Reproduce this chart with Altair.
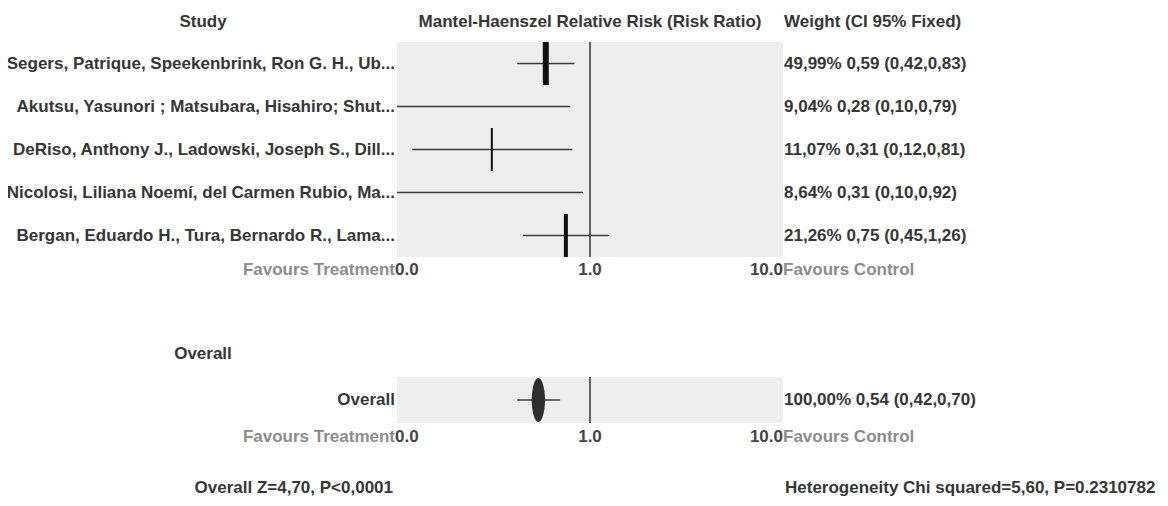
import altair as alt
import pandas as pd

# ---------------- data ----------------
studies = [
    "Segers, Patrique, Speekenbrink, Ron G. H., Ub...",
    "Akutsu, Yasunori ; Matsubara, Hisahiro; Shut...",
    "DeRiso, Anthony J., Ladowski, Joseph S., Dill...",
    "Nicolosi, Liliana Noemí, del Carmen Rubio, Ma...",
    "Bergan, Eduardo H., Tura, Bernardo R., Lama...",
]
weights = [49.99, 9.04, 11.07, 8.64, 21.26]
rr = [0.59, 0.28, 0.31, 0.31, 0.75]
ci_low = [0.42, 0.10, 0.12, 0.10, 0.45]
ci_high = [0.83, 0.79, 0.81, 0.92, 1.26]

overall_name = ["Overall"]
overall_weight = [100.00]
overall_rr = [0.54]
overall_low = [0.42]
overall_high = [0.70]

tick_values = [0.1, 1.0, 10.0]
tick_labels = ["0.0", "1.0", "10.0"]

header_study = "Study"
header_effect = "Mantel-Haenszel Relative Risk (Risk Ratio)"
header_weight = "Weight (CI 95% Fixed)"
header_overall = "Overall"
favours_left = "Favours Treatment"
favours_right = "Favours Control"
footer_left = "Overall Z=4,70, P<0,0001"
footer_right = "Heterogeneity Chi squared=5,60, P=0.2310782"


def fmt(v):
    return f"{v:.2f}".replace(".", ",")


def wlabel(w, r, lo, hi):
    return f"{fmt(w)}% {fmt(r)} ({fmt(lo)},{fmt(hi)})"


df = pd.DataFrame({
    "study": studies, "weight": weights, "rr": rr, "lo": ci_low, "hi": ci_high,
})
df["label"] = [wlabel(*t) for t in zip(weights, rr, ci_low, ci_high)]

dfo = pd.DataFrame({
    "study": overall_name, "weight": overall_weight, "rr": overall_rr,
    "lo": overall_low, "hi": overall_high,
})
dfo["label"] = [wlabel(*t) for t in zip(overall_weight, overall_rr, overall_low, overall_high)]

ticks = pd.DataFrame({"v": tick_values, "t": tick_labels})

# ---------------- styles ----------------
FONT = "Liberation Sans"
FS = 17
TXT = "#363636"
GREY = "#8c8c8c"
PANEL = "#eeeeee"

XS = alt.Scale(type="log", domain=[0.1, 10], range=[389, 775])


def xd(v):
    return alt.X(datum=v, scale=XS, axis=None)


def txt(**kw):
    base = dict(font=FONT, fontSize=FS, fontWeight="bold", color=TXT, baseline="middle")
    base.update(kw)
    return base


def section(data, yscale):
    ch = alt.Chart(data)
    Y = lambda **k: alt.Y("study:N", scale=yscale, axis=None, **k)
    bg = ch.mark_rect(color=PANEL).encode(x=xd(0.1), x2=alt.X2(datum=10), y=Y())
    ref = ch.mark_rule(color="#333333", strokeWidth=1.5).encode(
        x=xd(1.0), y=Y(bandPosition=0), y2=alt.Y2("study:N", bandPosition=1))
    ci = ch.mark_rule(color="#3c3c3c", strokeWidth=1.6).encode(
        x=alt.X("lo:Q", scale=XS, axis=None), x2="hi:Q", y=Y())
    names = ch.mark_text(**txt(align="right", dx=-2)).encode(x=xd(0.1), y=Y(), text="study:N")
    wts = ch.mark_text(**txt(align="left", dx=1)).encode(x=xd(10), y=Y(), text="label:N")
    return ch, Y, [bg, ref, ci, names, wts]


# studies section
chA, YA, layersA = section(df, alt.Scale(type="band", domain=studies, range=[34, 249],
                                        paddingInner=0, paddingOuter=0))
est = chA.mark_rule(color="#111111").encode(
    x=alt.X("rr:Q", scale=XS, axis=None),
    y=YA(bandPosition=0), y2=alt.Y2("study:N", bandPosition=1),
    strokeWidth=alt.StrokeWidth("weight:Q", legend=None,
                                scale=alt.Scale(type="threshold", domain=[10, 15, 30],
                                                range=[0, 2, 4, 6])),
)
secA = alt.layer(*layersA[:3], est, *layersA[3:])

# overall section
chB, YB, layersB = section(dfo, alt.Scale(type="band", domain=overall_name, range=[369, 415],
                                          paddingInner=0, paddingOuter=0))
ellipse = chB.mark_point(
    shape="M0,-1A0.3,1,0,1,1,0,1A0.3,1,0,1,1,0,-1Z",
    filled=True, color="#2e2e2e", opacity=1, size=1936, strokeWidth=0,
).encode(x=alt.X("rr:Q", scale=XS, axis=None), y=YB())
secB = alt.layer(*layersB[:3], ellipse, *layersB[3:])


# axis-label rows
def axis_row(ypx):
    tc = alt.Chart(ticks)
    out = [
        tc.transform_filter(alt.datum.v == tick_values[0]).mark_text(**txt(align="left", dx=-2, color="#444444"))
          .encode(x=alt.X("v:Q", scale=XS, axis=None), y=alt.value(ypx), text="t:N"),
        tc.transform_filter(alt.datum.v == tick_values[1]).mark_text(**txt(align="center", color="#444444"))
          .encode(x=alt.X("v:Q", scale=XS, axis=None), y=alt.value(ypx), text="t:N"),
        tc.transform_filter(alt.datum.v == tick_values[2]).mark_text(**txt(align="right", color="#444444"))
          .encode(x=alt.X("v:Q", scale=XS, axis=None), y=alt.value(ypx), text="t:N"),
        alt.Chart(pd.DataFrame({"t": [favours_left]})).mark_text(**txt(align="right", dx=-2, color=GREY))
          .encode(x=xd(0.1), y=alt.value(ypx), text="t:N"),
        alt.Chart(pd.DataFrame({"t": [favours_right]})).mark_text(**txt(align="left", dx=0, color=GREY))
          .encode(x=xd(10), y=alt.value(ypx), text="t:N"),
    ]
    return out


def label(text, x, ypx, **kw):
    return alt.Chart(pd.DataFrame({"t": [text]})).mark_text(**txt(**kw)).encode(
        x=x, y=alt.value(ypx), text="t:N")


annotations = [
    label(header_study, alt.value(195), 14, align="center"),
    label(header_effect, xd(1.0), 14, align="center"),
    label(header_weight, xd(10), 14, align="left", dx=1),
    label(header_overall, alt.value(195), 346, align="center"),
    label(footer_left, xd(0.1), 480, align="right", dx=-4),
    label(footer_right, xd(10), 480, align="left", dx=2),
] + axis_row(262) + axis_row(429)

chart = alt.layer(secA, secB, *annotations).resolve_scale(y="independent").properties(
    width=1152, height=490, padding=0, autosize=alt.AutoSizeParams(type="none"),
    background="white",
).configure_view(stroke=None)

chart.save("out.html", embed_options={"renderer": "svg", "actions": False})
